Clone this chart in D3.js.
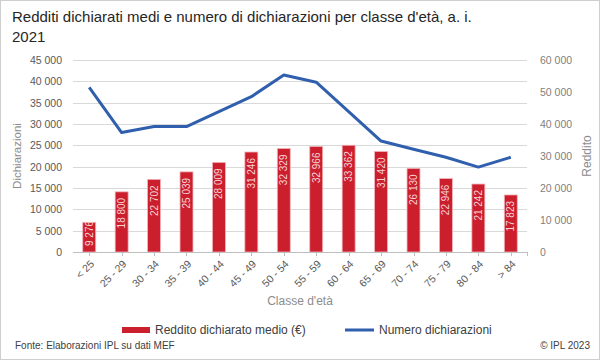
<!DOCTYPE html>
<html>
    <head>
        <meta charset="utf-8">
        <script src="https://cdn.jsdelivr.net/npm/d3@7/dist/d3.min.js" type="text/javascript"></script>
        <style>
            body { margin: 0; background: #fff; }
            text { font-family: "Liberation Sans", Arial, sans-serif; }
        </style>
    </head>
    <body>
    </body>
    <script>
        var width = 600;
        var height = 360;

        var categories = ["< 25", "25 - 29", "30 - 34", "35 - 39", "40 - 44", "45 - 49", "50 - 54",
                          "55 - 59", "60 - 64", "65 - 69", "70 - 74", "75 - 79", "80 - 84", "> 84"];
        var reddito = [9276, 18800, 22702, 25039, 28009, 31246, 32329, 32966, 33362, 31420, 26130, 22946, 21242, 17823];
        var dichiarazioni = [38600, 28000, 29400, 29400, 32900, 36400, 41500, 39800, 32900, 26000, 24100, 22200, 19900, 22200];
        var leftTicks = [0, 5000, 10000, 15000, 20000, 25000, 30000, 35000, 40000, 45000];
        var rightTicks = [0, 10000, 20000, 30000, 40000, 50000, 60000];
        var titleLines = ["Redditi dichiarati medi e numero di dichiarazioni per classe d'età, a. i.", "2021"];

        var red = "#cc1f2d";
        var blue = "#2f5fad";

        var plot = {left: 73, right: 527, top: 60, bottom: 252};

        var fmt = function(v){ return d3.format(",")(v).replace(/,/g, " "); };

        var svg = d3.select("body").append("svg")
                                   .attr("width", width)
                                   .attr("height", height);

        // frame
        svg.append("rect").attr("x", 0.5).attr("y", 0.5)
                          .attr("width", width - 1).attr("height", height - 1)
                          .attr("fill", "#fff").attr("stroke", "#cfcfcf");

        var x = d3.scaleBand().domain(categories)
                              .range([plot.left, plot.right])
                              .paddingInner(0.6).paddingOuter(0.3);
        var yLeft = d3.scaleLinear().domain([0, 45000]).range([plot.bottom, plot.top]);
        var yRight = d3.scaleLinear().domain([0, 60000]).range([plot.bottom, plot.top]);
        var xc = function(c){ return x(c) + x.bandwidth() / 2; };

        // title
        svg.append("text").attr("x", 12).attr("y", 22)
           .attr("font-size", "15px").attr("fill", "#262626")
           .selectAll("tspan").data(titleLines).enter().append("tspan")
           .attr("x", 12).attr("dy", function(d, i){ return i == 0 ? 0 : 20; })
           .text(function(d){ return d; });

        // gridlines
        svg.append("g").selectAll("line").data(leftTicks).enter().append("line")
           .attr("x1", plot.left).attr("x2", plot.right)
           .attr("y1", function(d){ return Math.round(yLeft(d)) + 0.5; })
           .attr("y2", function(d){ return Math.round(yLeft(d)) + 0.5; })
           .attr("stroke", "#d9d9d9").attr("stroke-width", 1);

        // left axis
        var gl = svg.append("g").attr("transform", "translate(" + (plot.left - 11) + ",0)")
                    .call(d3.axisLeft(yLeft).tickValues(leftTicks).tickFormat(fmt).tickSize(0).tickPadding(0));
        gl.select(".domain").remove();
        gl.selectAll("text").attr("font-size", "10.5px").attr("fill", "#595959").attr("font-family", null);

        // right axis
        var gr = svg.append("g").attr("transform", "translate(" + (plot.right + 13) + ",0)")
                    .call(d3.axisRight(yRight).tickValues(rightTicks).tickFormat(fmt).tickSize(0).tickPadding(0));
        gr.select(".domain").remove();
        gr.selectAll("text").attr("font-size", "10.5px").attr("fill", "#7f7f7f").attr("font-family", null);

        // axis titles
        svg.append("text").attr("transform", "translate(21,156) rotate(-90)")
           .attr("text-anchor", "middle").attr("font-size", "11.5px").attr("fill", "#8c8c8c")
           .text("Dichiarazioni");
        svg.append("text").attr("transform", "translate(591,156) rotate(-90)")
           .attr("text-anchor", "middle").attr("font-size", "12px").attr("fill", "#8c8c8c")
           .text("Reddito");

        // bars
        var defs = svg.append("defs");
        defs.selectAll("clipPath").data(categories).enter().append("clipPath")
            .attr("id", function(d, i){ return "clip" + i; })
            .append("rect")
            .attr("x", function(d){ return x(d); })
            .attr("y", function(d, i){ return yRight(reddito[i]); })
            .attr("width", x.bandwidth())
            .attr("height", function(d, i){ return plot.bottom - yRight(reddito[i]); });

        svg.append("g").selectAll("rect").data(categories).enter().append("rect")
           .attr("x", function(d){ return x(d); })
           .attr("y", function(d, i){ return yRight(reddito[i]); })
           .attr("width", x.bandwidth())
           .attr("height", function(d, i){ return plot.bottom - yRight(reddito[i]); })
           .attr("fill", red).attr("stroke", "#f3b4ba").attr("stroke-width", 0.8);

        // x axis line + ticks
        svg.append("line").attr("x1", plot.left).attr("x2", plot.right)
           .attr("y1", plot.bottom + 0.5).attr("y2", plot.bottom + 0.5)
           .attr("stroke", "#bfbfbf");
        svg.append("g").selectAll("line").data(categories).enter().append("line")
           .attr("x1", function(d){ return Math.round(xc(d)) + 0.5; })
           .attr("x2", function(d){ return Math.round(xc(d)) + 0.5; })
           .attr("y1", plot.bottom).attr("y2", plot.bottom + 4)
           .attr("stroke", "#bfbfbf");
        svg.append("line").attr("x1", plot.right + 0.5).attr("x2", plot.right + 0.5)
           .attr("y1", plot.bottom).attr("y2", plot.bottom + 4).attr("stroke", "#bfbfbf");

        // bar labels (each in a clipped group so they stay inside the bar)
        var labels = svg.append("g").selectAll("g").data(categories).enter().append("g")
           .attr("clip-path", function(d, i){ return "url(#clip" + i + ")"; })
           .append("text")
           .attr("font-size", "10px").attr("fill", "#f6d2d5")
           .attr("dy", "0.35em")
           .text(function(d, i){ return fmt(reddito[i]); });
        labels.each(function(d, i){
            var len = this.getComputedTextLength();
            var top = yRight(reddito[i]);
            var el = d3.select(this);
            if (plot.bottom - top < len + 12) {
                el.attr("text-anchor", "start")
                  .attr("transform", "translate(" + xc(d) + "," + (plot.bottom - 6) + ") rotate(-90)");
            } else {
                el.attr("text-anchor", "end")
                  .attr("transform", "translate(" + xc(d) + "," + (top + 6) + ") rotate(-90)");
            }
        });

        // line
        var line = d3.line().x(function(d, i){ return xc(categories[i]); })
                            .y(function(d){ return yLeft(d); });
        svg.append("path").datum(dichiarazioni)
           .attr("d", line).attr("fill", "none")
           .attr("stroke", blue).attr("stroke-width", 3).attr("stroke-linejoin", "round");

        // category labels
        svg.append("g").selectAll("text").data(categories).enter().append("text")
           .attr("transform", function(d){ return "translate(" + (xc(d) + 3) + "," + (plot.bottom + 10) + ") rotate(-45)"; })
           .attr("text-anchor", "end").attr("dy", "0.35em")
           .attr("font-size", "10.5px").attr("fill", "#595959")
           .text(function(d){ return d; });

        svg.append("text").attr("x", 300).attr("y", 305)
           .attr("text-anchor", "middle").attr("font-size", "12px").attr("fill", "#8c8c8c")
           .text("Classe d'età");

        // legend
        svg.append("rect").attr("x", 122).attr("y", 327).attr("width", 28).attr("height", 6).attr("fill", red);
        svg.append("text").attr("x", 155).attr("y", 334).attr("font-size", "12px").attr("fill", "#404040")
           .text("Reddito dichiarato medio (€)");
        svg.append("line").attr("x1", 345).attr("x2", 374).attr("y1", 330).attr("y2", 330)
           .attr("stroke", blue).attr("stroke-width", 3);
        svg.append("text").attr("x", 379).attr("y", 334).attr("font-size", "12px").attr("fill", "#404040")
           .text("Numero dichiarazioni");

        // footer
        svg.append("text").attr("x", 15).attr("y", 349).attr("font-size", "10px").attr("fill", "#404040")
           .text("Fonte: Elaborazioni IPL su dati MEF");
        svg.append("text").attr("x", 590).attr("y", 349).attr("text-anchor", "end")
           .attr("font-size", "10px").attr("fill", "#404040")
           .text("© IPL 2023");
    </script>
</html>
